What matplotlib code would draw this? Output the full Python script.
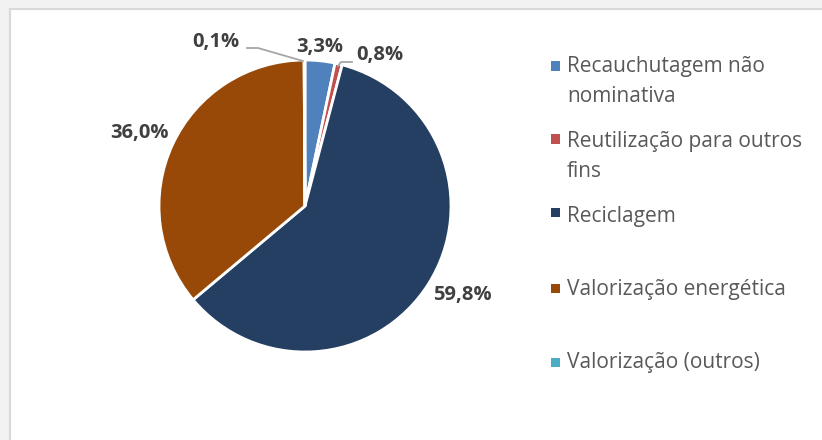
import matplotlib.pyplot as plt
from matplotlib.patches import Rectangle

categorias = ['Recauchutagem não\nnominativa', 'Reutilização para outros\nfins',
              'Reciclagem', 'Valorização energética', 'Valorização (outros)']
valores = [3.3, 0.8, 59.8, 36.0, 0.1]
cores = ['#4F81BD', '#C0504D', '#243F61', '#984807', '#4BACC6']
rotulos = ['3,3%', '0,8%', '59,8%', '36,0%', '0,1%']

W, H = 822, 440
CX, CY, R = 305, 206, 146   # centro e raio do pie em pixels

# posicoes (pixels) dos rotulos, como no Excel
pos_rotulos = [(320, 47), (380, 55), (462, 295), (139, 133), (216, 42)]
# linhas de chamada para as fatias pequenas
chamadas = {4: [(247, 48), (258, 48), (303, 61)],
            1: [(352, 62), (341, 62), (338, 66)]}
# legenda: baseline da primeira linha e centro do quadrado
leg_base = [72, 147, 222, 295, 368]
leg_quad = [66, 139, 213, 288, 362]
ENTRELINHA = 30


def px(x, y):
    return (x - CX) / R, (CY - y) / R


fig = plt.figure(figsize=(W / 100, H / 100), dpi=100)
fig.patch.set_facecolor('#f2f2f2')
fundo = Rectangle((10 / W, -0.1), 1.1, (H - 9) / H + 0.1,
                  transform=fig.transFigure, facecolor='white',
                  edgecolor='#d9d9d9', linewidth=1.5, zorder=-10)
fig.patches.append(fundo)

ax = fig.add_axes([(CX - R) / W, (H - CY - R) / H, 2 * R / W, 2 * R / H])
ax.patch.set_alpha(0)
ax.pie(valores, colors=cores, startangle=90, counterclock=False, radius=1,
       wedgeprops=dict(edgecolor='white', linewidth=2))
ax.set_xlim(-1, 1)
ax.set_ylim(-1, 1)
ax.set_aspect('equal')
ax.axis('off')

for i, txt in enumerate(rotulos):
    x, y = px(*pos_rotulos[i])
    ax.text(x, y, txt, ha='center', va='center', fontsize=14.5,
            fontweight='bold', family='Open Sans', color='#404040')

for i, pts in chamadas.items():
    xs, ys = zip(*[px(a, b) for a, b in pts])
    ax.plot(xs, ys, color='#a6a6a6', linewidth=1.3, clip_on=False)

for i, nome in enumerate(categorias):
    fig.patches.append(Rectangle((551 / W, (H - leg_quad[i] - 4.5) / H), 9 / W, 9 / H,
                                 transform=fig.transFigure, facecolor=cores[i],
                                 edgecolor='none'))
    for k, linha in enumerate(nome.split('\n')):
        fig.text(567 / W, (H - leg_base[i] - k * ENTRELINHA) / H, linha,
                 ha='left', va='baseline', fontsize=15, family='Open Sans',
                 color='#595959')

fig.savefig('out.png', dpi=100, facecolor=fig.get_facecolor())
